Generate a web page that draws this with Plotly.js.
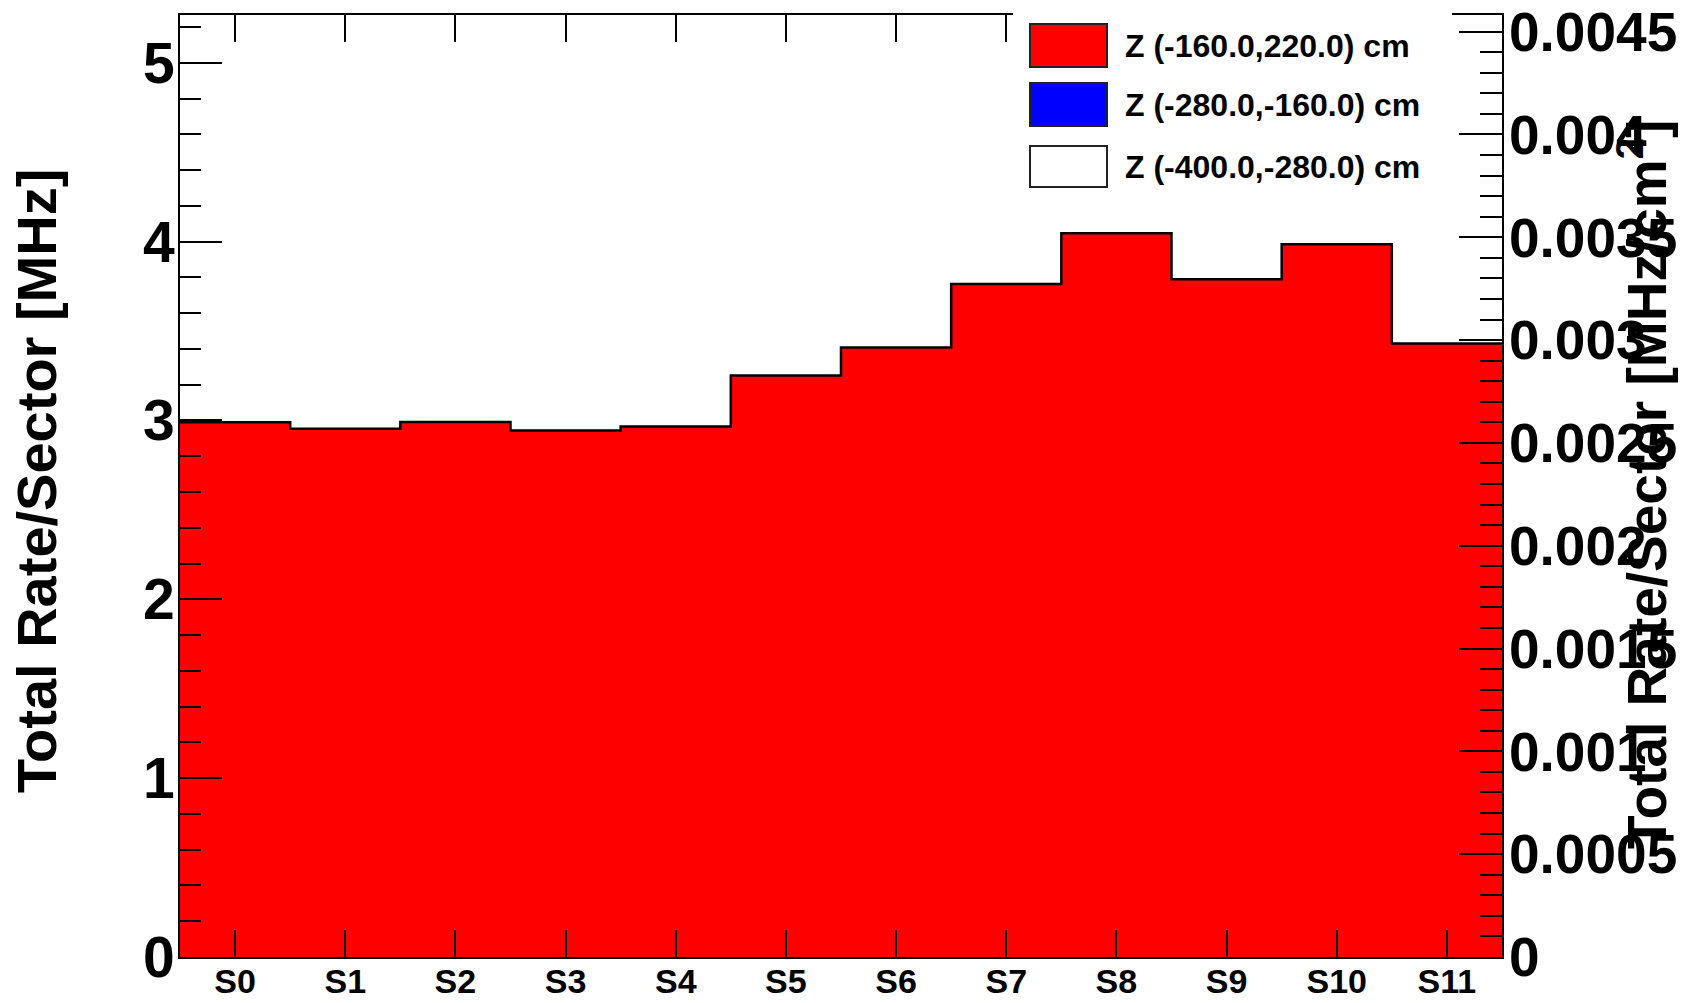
<!DOCTYPE html>
<html>
<head>
<meta charset="utf-8">
<script src="https://cdn.plot.ly/plotly-3.0.1.min.js"></script>
<style>html,body{margin:0;padding:0;background:#fff;}#chart{width:1694px;height:1003px;}</style>
</head>
<body>
<div id="chart"></div>
<script>
// ---- data ----
const sectors = ["S0","S1","S2","S3","S4","S5","S6","S7","S8","S9","S10","S11"];
const rateZ1 = [2.990, 2.953, 2.992, 2.944, 2.966, 3.251, 3.408, 3.763, 4.047, 3.790, 3.985, 3.430]; // Z (-160,220)
const rateZ2 = [0,0,0,0,0,0,0,0,0,0,0,0]; // Z (-280,-160)
const rateZ3 = [0,0,0,0,0,0,0,0,0,0,0,0]; // Z (-400,-280)
const seriesNames = ["Z (-160.0,220.0) cm", "Z (-280.0,-160.0) cm", "Z (-400.0,-280.0) cm"];
const seriesColors = ["#ff0000", "#0000ff", "#ffffff"];
const yLeftMax = 5.267;
const yRightMax = 0.004581;

// ---- geometry helpers ----
const W = 1694, H = 1003;
const mL = 180, mR = 192, mT = 15, mB = 46;
const pw = W - mL - mR, ph = H - mT - mB;
const px = x => (x - mL) / pw;
const py = y => (H - mB - y) / ph;

const idx = sectors.map((s, i) => i);
const edgesX = idx.map(i => i - 0.5).concat([sectors.length - 0.5]);
const stepY = rateZ1.concat([rateZ1[rateZ1.length - 1]]);

const fontB = {family: "Liberation Sans, Arial, sans-serif", color: "#000", weight: 700};

const traces = [
  {type: "bar", x: idx, y: rateZ1, width: 1, marker: {color: seriesColors[0], line: {width: 0}}, showlegend: false, hoverinfo: "skip"},
  {type: "bar", x: idx, y: rateZ2, width: 1, marker: {color: seriesColors[1], line: {width: 0}}, showlegend: false, hoverinfo: "skip"},
  {type: "bar", x: idx, y: rateZ3, width: 1, marker: {color: seriesColors[2], line: {width: 0}}, showlegend: false, hoverinfo: "skip"},
  {type: "scatter", mode: "lines", x: edgesX, y: stepY, line: {shape: "hv", color: "#000", width: 2.5}, showlegend: false, hoverinfo: "skip"},
  {type: "scatter", mode: "lines", x: [0], y: [0], yaxis: "y2", showlegend: false, hoverinfo: "skip", line: {width: 0}}
];

// legend drawn by hand (big ROOT-style boxes)
const boxTops = [24, 83, 146], boxBots = [67, 126, 187];
const shapes = [
  {type: "rect", xref: "paper", yref: "paper", x0: px(1013), x1: px(1452), y0: py(205), y1: py(-5), fillcolor: "#fff", line: {width: 0}, layer: "above"}
];
const annotations = [];
seriesNames.forEach((n, i) => {
  shapes.push({type: "rect", xref: "paper", yref: "paper", x0: px(1030), x1: px(1107), y0: py(boxBots[i]), y1: py(boxTops[i]),
    fillcolor: seriesColors[i], line: {color: "#222", width: 2}, layer: "above"});
  annotations.push({xref: "paper", yref: "paper", x: px(1123), y: py((boxTops[i] + boxBots[i]) / 2), xanchor: "left", yanchor: "middle",
    text: n, showarrow: false, font: Object.assign({}, fontB, {size: 32})});
});
annotations.push({xref: "paper", yref: "paper", x: px(36), y: py(481), xanchor: "center", yanchor: "middle", textangle: -90,
  text: "Total Rate/Sector [MHz]", showarrow: false, font: Object.assign({}, fontB, {size: 56})});
annotations.push({xref: "paper", yref: "paper", x: px(1643), y: py(485), xanchor: "center", yanchor: "middle", textangle: -90,
  text: "Total Rate/Sector [MHz/cm<sup>2</sup>]", showarrow: false, font: Object.assign({}, fontB, {size: 55})});

const layout = {
  width: W, height: H,
  margin: {l: mL, r: mR, t: mT, b: mB, pad: 0},
  paper_bgcolor: "#fff", plot_bgcolor: "#fff",
  barmode: "stack", bargap: 0,
  showlegend: false,
  xaxis: {
    range: [-0.5, sectors.length - 0.5], tickmode: "array", tickvals: idx, ticktext: sectors,
    ticks: "inside", ticklen: 27, tickwidth: 2, tickcolor: "#000",
    showline: true, linecolor: "#000", linewidth: 2, mirror: "ticks",
    showgrid: false, zeroline: false, fixedrange: true,
    tickfont: Object.assign({}, fontB, {size: 34}), ticklabelstandoff: -7
  },
  yaxis: {
    range: [0, yLeftMax], dtick: 1, tick0: 0,
    ticks: "inside", ticklen: 42, tickwidth: 2, tickcolor: "#000",
    minor: {dtick: 0.2, ticks: "inside", ticklen: 21, tickwidth: 2, tickcolor: "#000", showgrid: false},
    showline: true, linecolor: "#000", linewidth: 2, mirror: false,
    showgrid: false, zeroline: false, fixedrange: true,
    tickfont: Object.assign({}, fontB, {size: 57}), ticklabelstandoff: -8
  },
  yaxis2: {
    overlaying: "y", side: "right", anchor: "x",
    range: [0, yRightMax], dtick: 0.0005, tick0: 0, tickformat: "~g",
    ticks: "inside", ticklen: 43, tickwidth: 2, tickcolor: "#000",
    minor: {dtick: 0.0001, ticks: "inside", ticklen: 22, tickwidth: 2, tickcolor: "#000", showgrid: false},
    showline: true, linecolor: "#000", linewidth: 2,
    showgrid: false, zeroline: false, fixedrange: true,
    tickfont: Object.assign({}, fontB, {size: 55}), ticklabelstandoff: -6
  },
  shapes: shapes,
  annotations: annotations
};

Plotly.newPlot("chart", traces, layout, {staticPlot: true, displayModeBar: false});
</script>
</body>
</html>
